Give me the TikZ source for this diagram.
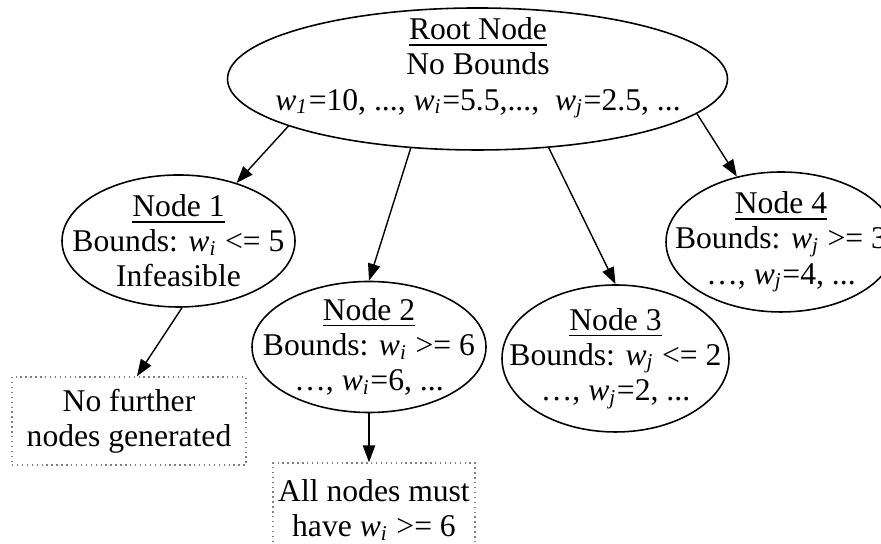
\documentclass[tikz,border=0pt]{standalone}
\usepackage{fontspec}
\setmainfont{Liberation Serif}
\usetikzlibrary{shapes.geometric,arrows.meta}

\newcommand{\wv}[1]{\textit{w}\textsubscript{\textit{#1}}}

\begin{document}
\begin{tikzpicture}[
    font=\fontsize{9}{10}\selectfont,
    >={Triangle[length=4.8pt,width=3.5pt]},
    bnode/.style={draw, ellipse, line width=0.45pt, inner sep=0pt},
    btext/.style={align=center, inner sep=0pt},
    resbox/.style={draw=gray, densely dotted, line width=0.4pt, align=center, inner sep=1pt}
  ]
        % Fix the page and cut the picture at its edges
        \useasboundingbox (0,0) rectangle (8.81,5.44);
        \clip (0,0) rectangle (8.81,5.44);

        % Draw the ellipses of the tree
        \node[bnode, minimum width=5cm, minimum height=1.42cm] (root) at (4.775,4.65) {};
        \node[bnode, minimum width=2.33cm, minimum height=1.32cm] (n1) at (1.785,3.03) {};
        \node[bnode, minimum width=2.34cm, minimum height=1.31cm] (n2) at (3.69,1.97) {};
        \node[bnode, minimum width=2.27cm, minimum height=1.47cm] (n3) at (6.155,1.855) {};
        \node[bnode, minimum width=2.30cm, minimum height=1.40cm] (n4) at (7.81,3.02) {};

        % Write the texts in them
        \node[btext] (roottxt) at (4.78,4.76) {\underline{Root Node}\\No Bounds\\\wv{1}=10, ..., \wv{i}=5.5,...,\ \ \wv{j}=2.5, ...};
        \node[btext] (n1txt) at (n1) {\underline{Node 1}\\Bounds: \wv{i} <= 5\\Infeasible};
        \node[btext] (n2txt) at (n2) {\underline{Node 2}\\Bounds: \wv{i} >= 6\\\ldots, \wv{i}=6, ...};
        \node[btext] (n3txt) at (n3) {\underline{Node 3}\\Bounds: \wv{j} <= 2\\\ldots, \wv{j}=2, ...};
        \node[btext] (n4txt) at (n4) {\underline{Node 4}\\Bounds: \wv{j} >= 3\\\ldots, \wv{j}=4, ...};

        % Draw the result boxes
        \node[resbox, minimum width=2.34cm, minimum height=0.88cm] (nomore) at (1.29,1.23) {No further\\nodes generated};
        \node[resbox, minimum width=2.02cm, minimum height=0.94cm] (allsix) at (3.74,0.34) {All nodes must\\have \wv{i} >= 6};

        % Draw lines with arrows
        \draw[->] (root.194.5) -- (n1.45);
        \draw[->] (root.226) -- (n2.north);
        \draw[->] (root.316.8) -- (n3.north);
        \draw[->] (root.351.4) -- (n4.124);
        \draw[->] (n1.273) -- (nomore.80);
        \draw[->] (n2.south) -- (n2.south |- allsix.north);
\end{tikzpicture}
\end{document}
